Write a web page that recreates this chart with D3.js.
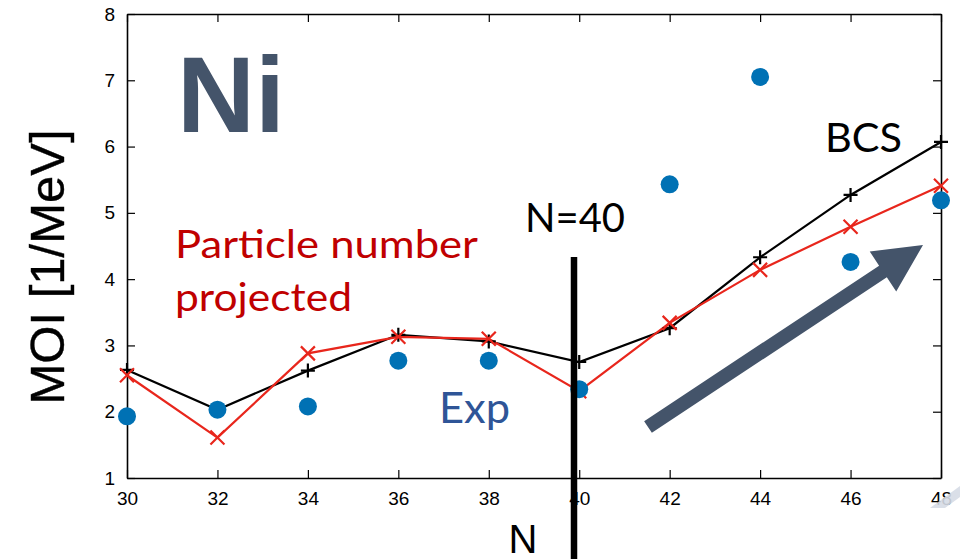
<!DOCTYPE html>
<html><head><meta charset="utf-8">
<script src="https://cdn.jsdelivr.net/npm/d3@7"></script>
<style>body{margin:0;background:#fff}svg{display:block}</style>
</head><body>
<svg id="c" width="960" height="559"></svg>
<script>
const neutrons = [30, 32, 34, 36, 38, 40, 42, 44, 46, 48];
const expMOI = [1.93, 2.03, 2.08, 2.77, 2.77, 2.34, 5.43, 7.05, 4.26, 5.19];
const bcsMOI = [2.63, 2.03, 2.62, 3.16, 3.06, 2.75, 3.26, 4.33, 5.27, 6.07];
const pnpMOI = [2.55, 1.61, 2.88, 3.13, 3.10, 2.31, 3.34, 4.14, 4.79, 5.41];
const xTicks = [30, 32, 34, 36, 38, 40, 42, 44, 46, 48];
const yTicks = [1, 2, 3, 4, 5, 6, 7, 8];

const svg = d3.select("#c");
const L = 127, R = 941, T = 14, B = 478;
const x = d3.scaleLinear().domain([30, 48]).range([L, R]);
const y = d3.scaleLinear().domain([1, 8]).range([B, T]);
const tickFont = "'Liberation Sans', Arial, sans-serif";
const callout = "Lato, 'Open Sans', sans-serif";

function styleAxis(g){
  g.attr("font-size", 19).attr("font-family", tickFont);
  g.select(".domain").attr("stroke", "#000").attr("stroke-width", 1.6);
  g.selectAll(".tick line").attr("stroke", "#000").attr("stroke-width", 1.2);
  g.selectAll(".tick text").style("font-size", "19px").style("font-family", tickFont).attr("fill", "#000");
}
svg.append("g").attr("transform", `translate(0,${B})`)
  .call(d3.axisBottom(x).tickValues(xTicks).tickFormat(d3.format("d")).tickSizeInner(-8).tickSizeOuter(0).tickPadding(14))
  .call(styleAxis);
svg.append("g").attr("transform", `translate(0,${T})`)
  .call(d3.axisTop(x).tickValues(xTicks).tickSizeInner(-8).tickSizeOuter(0).tickFormat(""))
  .call(styleAxis);
svg.append("g").attr("transform", `translate(${L},0)`)
  .call(d3.axisLeft(y).tickValues(yTicks).tickFormat(d3.format("d")).tickSizeInner(-8).tickSizeOuter(0).tickPadding(12))
  .call(styleAxis);
svg.append("g").attr("transform", `translate(${R},0)`)
  .call(d3.axisRight(y).tickValues(yTicks).tickSizeInner(-8).tickSizeOuter(0).tickFormat(""))
  .call(styleAxis);

// Axis titles
svg.append("text").attr("transform", "translate(64,267) rotate(-90)")
  .attr("text-anchor", "middle").attr("font-family", tickFont).attr("font-size", 49)
  .attr("stroke", "#000").attr("stroke-width", 0.4)
  .text("MOI [1/MeV]");
svg.append("text").attr("x", 523).attr("y", 553).attr("text-anchor", "middle")
  .attr("font-family", tickFont).attr("font-size", 40).text("N");

// Big "Ni"
svg.append("text").attr("x", 177).attr("y", 132).attr("font-family", tickFont)
  .attr("font-weight", "bold").attr("font-size", 108).attr("fill", "#44546A").text("Ni");

// Lines
const line = d3.line().x((d, i) => x(neutrons[i])).y(d => y(d));
svg.append("path").datum(bcsMOI).attr("d", line).attr("fill", "none")
  .attr("stroke", "#000").attr("stroke-width", 2.2);
svg.append("path").datum(pnpMOI).attr("d", line).attr("fill", "none")
  .attr("stroke", "#E8261C").attr("stroke-width", 2.2);

// BCS "+" markers
const s = 7;
svg.append("g").selectAll("path").data(bcsMOI).join("path")
  .attr("d", (d, i) => { const cx = x(neutrons[i]), cy = y(d);
    return `M${cx - s},${cy}H${cx + s}M${cx},${cy - s}V${cy + s}`; })
  .attr("stroke", "#000").attr("stroke-width", 2.2);
// PNP "x" markers
const k = 7;
svg.append("g").selectAll("path").data(pnpMOI).join("path")
  .attr("d", (d, i) => { const cx = x(neutrons[i]), cy = y(d);
    return `M${cx - k},${cy - k}L${cx + k},${cy + k}M${cx - k},${cy + k}L${cx + k},${cy - k}`; })
  .attr("stroke", "#E8261C").attr("stroke-width", 2.2);

// Exp circles
svg.append("g").selectAll("circle").data(expMOI).join("circle")
  .attr("cx", (d, i) => x(neutrons[i])).attr("cy", d => y(d)).attr("r", 9)
  .attr("fill", "#0071B4");

// N=40 line
svg.append("line").attr("x1", 574).attr("x2", 574).attr("y1", 257).attr("y2", 559)
  .attr("stroke", "#000").attr("stroke-width", 6.5);

// Callout texts
svg.append("text").attr("x", 525).attr("y", 232).attr("font-family", callout).attr("font-size", 40)
  .attr("textLength", 100).attr("lengthAdjust", "spacingAndGlyphs").attr("fill", "#000").text("N=40");
svg.append("text").attr("x", 175).attr("y", 258).attr("font-family", callout).attr("font-size", 39)
  .attr("textLength", 303).attr("lengthAdjust", "spacingAndGlyphs").attr("fill", "#C00000").text("Particle number");
svg.append("text").attr("x", 175).attr("y", 311).attr("font-family", callout).attr("font-size", 39)
  .attr("textLength", 177).attr("lengthAdjust", "spacingAndGlyphs").attr("fill", "#C00000").text("projected");
svg.append("text").attr("x", 439).attr("y", 423).attr("font-family", callout).attr("font-size", 42)
  .attr("textLength", 71).attr("lengthAdjust", "spacingAndGlyphs").attr("fill", "#2F5597").text("Exp");
svg.append("text").attr("x", 825).attr("y", 152).attr("font-family", callout).attr("font-size", 41)
  .attr("textLength", 77).attr("lengthAdjust", "spacingAndGlyphs").attr("fill", "#000").text("BCS");

// Big arrow
const tail = [648, 427], tip = [923, 245];
const dx = tip[0] - tail[0], dy = tip[1] - tail[1], len = Math.hypot(dx, dy);
const ux = dx / len, uy = dy / len, nx = -uy, ny = ux;
const hw = 7, headLen = 48, headW = 24;
const bx = tip[0] - ux * headLen, by = tip[1] - uy * headLen;
const pts = [
  [tail[0] + nx * hw, tail[1] + ny * hw],
  [bx + nx * hw, by + ny * hw],
  [bx + nx * headW, by + ny * headW],
  tip,
  [bx - nx * headW, by - ny * headW],
  [bx - nx * hw, by - ny * hw],
  [tail[0] - nx * hw, tail[1] - ny * hw]
];
svg.append("polygon").attr("points", pts.map(p => p.join(",")).join(" ")).attr("fill", "#44546A");

// light decoration bottom right
svg.append("polygon").attr("points", "930,508 960,486 960,497 945,508").attr("fill", "#D6DCE5").attr("opacity", 0.9);
</script>
</body></html>
